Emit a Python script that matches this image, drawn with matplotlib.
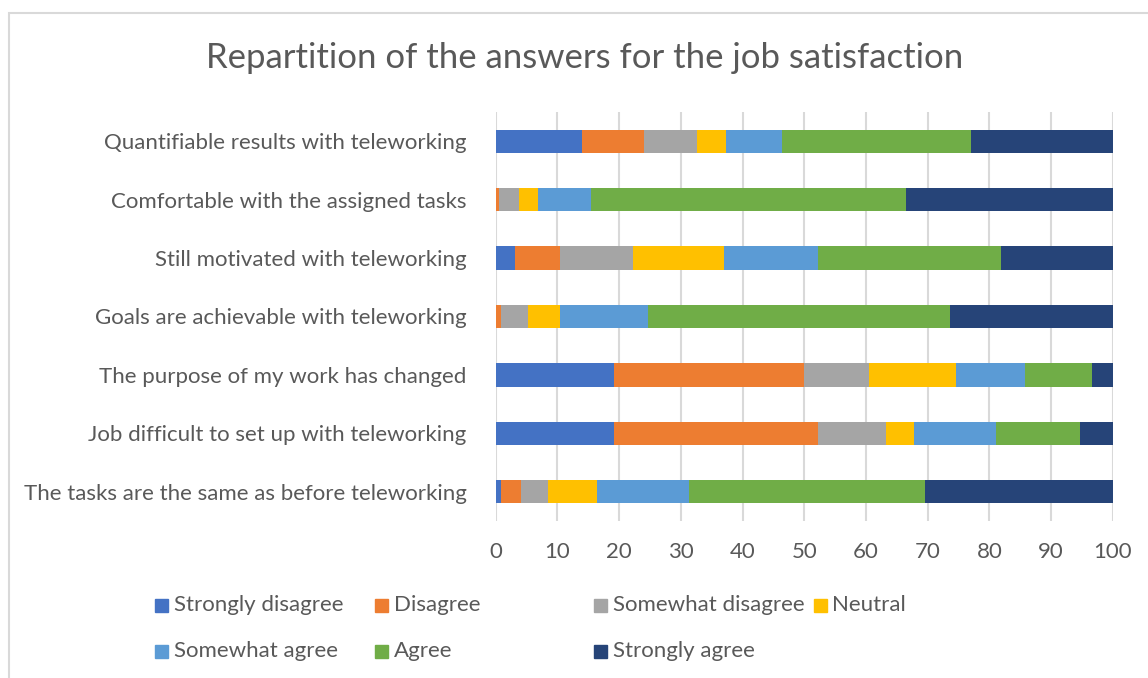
import numpy as np
import matplotlib.pyplot as plt
from matplotlib.patches import Rectangle

plt.rcParams['font.family'] = ['Lato', 'DejaVu Sans']

# questions, top to bottom
questions = [
    'Quantifiable results with teleworking',
    'Comfortable with the assigned tasks',
    'Still motivated with teleworking',
    'Goals are achievable with teleworking',
    'The purpose of my work has changed',
    'Job difficult to set up with teleworking',
    'The tasks are the same as before teleworking',
]

answers = ['Strongly disagree', 'Disagree', 'Somewhat disagree', 'Neutral',
           'Somewhat agree', 'Agree', 'Strongly agree']
colors = ['#4472C4', '#ED7D31', '#A5A5A5', '#FFC000',
          '#5B9BD5', '#70AD47', '#264478']

# percentage of answers per question (same order as questions)
strongly_disagree = [14.0, 0.0, 3.2, 0.0, 19.2, 19.2, 0.9]
disagree = [10.1, 0.5, 7.3, 0.9, 30.8, 33.1, 3.2]
somewhat_disagree = [8.6, 3.2, 11.8, 4.4, 10.5, 10.9, 4.4]
neutral = [4.6, 3.2, 14.7, 5.1, 14.1, 4.6, 7.9]
somewhat_agree = [9.1, 8.6, 15.3, 14.2, 11.1, 13.2, 14.9]
agree = [30.6, 51.0, 29.6, 49.1, 10.9, 13.7, 38.3]
strongly_agree = [23.0, 33.5, 18.1, 26.3, 3.4, 5.3, 30.4]

series = [strongly_disagree, disagree, somewhat_disagree, neutral,
          somewhat_agree, agree, strongly_agree]

txt = '#595959'
grid = '#D9D9D9'

fig = plt.figure(figsize=(11.48, 6.78), dpi=100)
ax = fig.add_axes([0.4318, 0.2316, 0.5375, 0.6032])

y = np.arange(len(questions))
left = np.zeros(len(questions))
for vals, name, col in zip(series, answers, colors):
    vals = np.array(vals)
    ax.barh(y, vals, left=left, height=0.4, color=col, label=name, zorder=3)
    left += vals

ax.set_xlim(0, 100)
ax.set_ylim(6.5, -0.5)
ax.set_xticks(np.arange(0, 101, 10))
ax.set_yticks(y)
ax.set_yticklabels(questions)
ax.xaxis.grid(True, color=grid, linewidth=1.5, zorder=0)
ax.tick_params(axis='both', length=0, labelcolor=txt, labelsize=16)
ax.tick_params(axis='y', pad=21)
ax.tick_params(axis='x', pad=15, labelsize=16)
for s in ax.spines.values():
    s.set_visible(False)

fig.text(0.5096, 0.915, 'Repartition of the answers for the job satisfaction',
         ha='center', va='center', fontsize=25, color=txt)

# legend drawn as a grid of swatches, two rows of four
W, H = 1148, 678
for i, (name, col) in enumerate(zip(answers, colors)):
    row, c = divmod(i, 4)
    x0 = 155 + c * 219.5
    yc = 605 + row * 46
    fig.patches.append(Rectangle((x0 / W, 1 - (yc + 6.5) / H), 13 / W, 13 / H,
                                 transform=fig.transFigure, color=col))
    fig.text((x0 + 19) / W, 1 - yc / H, name, ha='left', va='center',
             fontsize=16, color=txt)

# chart frame
fig.patches.append(Rectangle((9 / W, -0.1), 1.2, 1 - 13 / H + 0.1,
                             transform=fig.transFigure, fill=False,
                             edgecolor='#D9D9D9', linewidth=1.5))

fig.savefig('out.png', dpi=100)
